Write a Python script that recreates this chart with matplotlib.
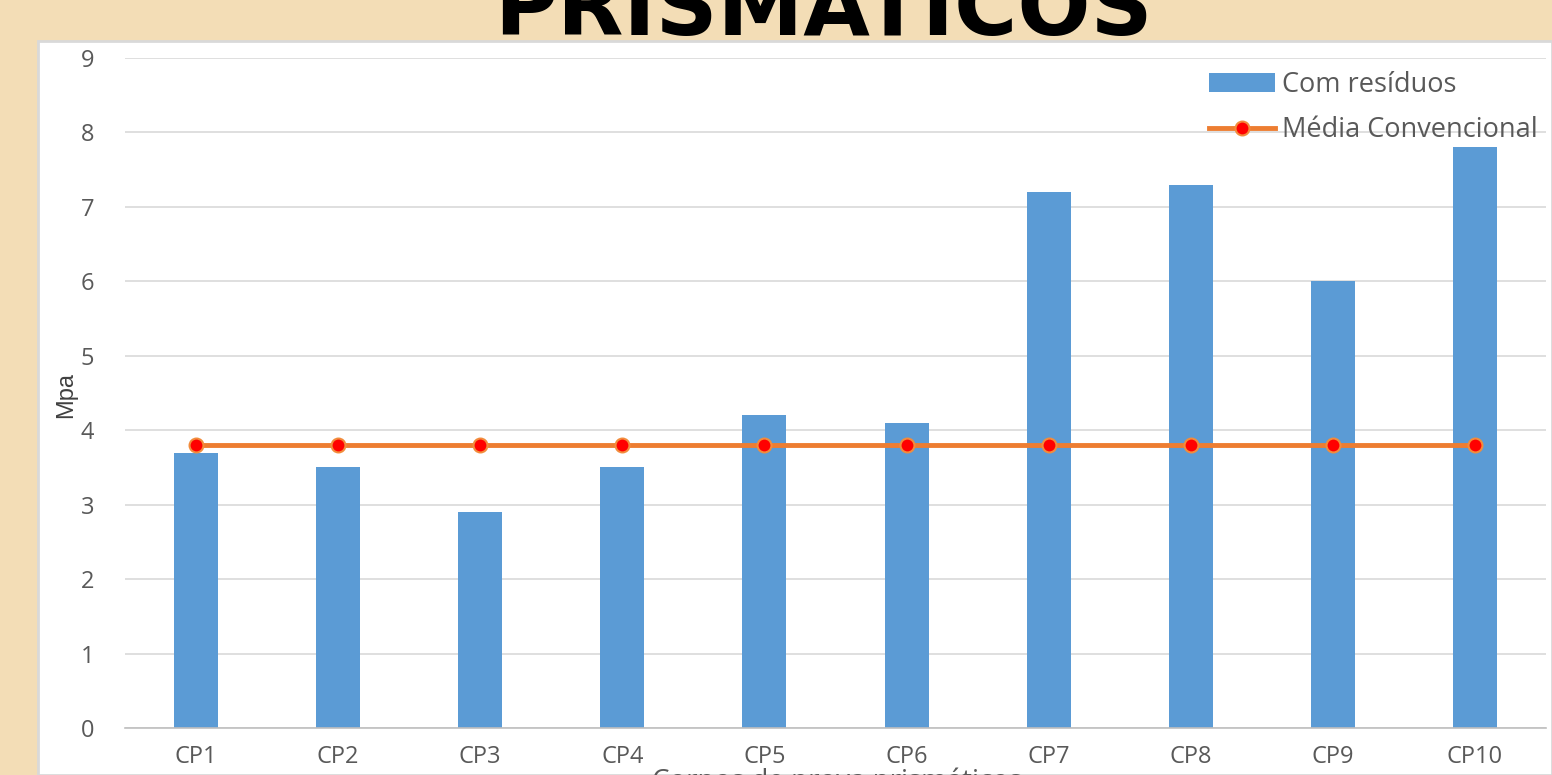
import matplotlib.pyplot as plt
from matplotlib.patches import Rectangle

# data
categories = ["CP1", "CP2", "CP3", "CP4", "CP5", "CP6", "CP7", "CP8", "CP9", "CP10"]
com_residuos = [3.7, 3.5, 2.9, 3.5, 4.2, 4.1, 7.2, 7.3, 6.0, 7.8]
media_convencional = [3.8, 3.8, 3.8, 3.8, 3.8, 3.8, 3.8, 3.8, 3.8, 3.8]
yticks = [0, 1, 2, 3, 4, 5, 6, 7, 8, 9]

W, H = 1552, 775
fig = plt.figure(figsize=(W / 100, H / 100), dpi=100)
fig.patch.set_facecolor("#F3DDB6")

# white chart panel
fig.add_artist(Rectangle((38 / W, 0), 1 - 38 / W, 1 - 41 / H, transform=fig.transFigure,
                         facecolor="white", edgecolor="#D9D9D9", linewidth=2, zorder=0))

# big title, cut off at top
fig.text(823 / W, 1 - 35 / H, "PRISMÁTICOS", ha="center", va="baseline",
         fontsize=62, fontweight="bold", color="black", family="DejaVu Sans")

ax = fig.add_axes([125 / W, 1 - 728 / H, (1546 - 125) / W, (728 - 58) / H])
ax.set_facecolor("none")

x = list(range(len(categories)))
bars = ax.bar(x, com_residuos, width=0.31, color="#5B9BD5", label="Com resíduos", zorder=2)
line, = ax.plot(x, media_convencional, color="#ED7D31", linewidth=3.5, marker="o",
                markersize=10, markerfacecolor="#FF0000", markeredgecolor="#F28C3C",
                markeredgewidth=1.5, label="Média Convencional", zorder=3)

ax.set_xlim(-0.5, len(categories) - 0.5)
ax.set_ylim(0, 9)
ax.set_yticks(yticks)
ax.set_xticks(x)
ax.set_xticklabels(categories)
ax.grid(axis="y", color="#D9D9D9", linewidth=1.2, zorder=0)
ax.set_axisbelow(True)
for s in ["top", "right", "left"]:
    ax.spines[s].set_visible(False)
ax.spines["bottom"].set_color("#BFBFBF")
ax.spines["bottom"].set_linewidth(1.2)
ax.tick_params(axis="both", length=0, labelsize=17, labelcolor="#595959")
ax.tick_params(axis="x", pad=12)
ax.tick_params(axis="y", pad=22)
for lbl in ax.get_xticklabels() + ax.get_yticklabels():
    lbl.set_family("Open Sans")

fig.text(66 / W, 1 - 395 / H, "Mpa", rotation=90, ha="center", va="center",
         fontsize=17, color="#404040", family="Liberation Sans")
fig.text(837 / W, 1 - 767 / H, "Corpos de prova prismáticos", ha="center", va="top",
         fontsize=20, color="#595959", family="Open Sans")

leg = ax.legend([bars, line], ["Com resíduos", "Média Convencional"],
                loc="upper left", bbox_to_anchor=(1198 / W, 1 - 60 / H),
                bbox_transform=fig.transFigure, frameon=False, fontsize=19.5,
                handlelength=2.45, handletextpad=0.25, labelspacing=0.64,
                borderaxespad=0)
for t in leg.get_texts():
    t.set_color("#595959")
    t.set_family("Open Sans")

fig.savefig("out.png", dpi=100, facecolor=fig.get_facecolor())
